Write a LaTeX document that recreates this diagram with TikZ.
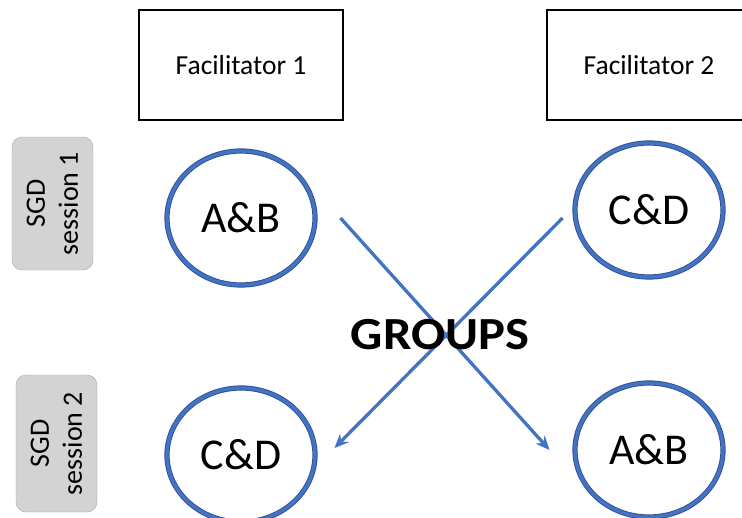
\documentclass[tikz,border=0pt]{standalone}
\usepackage{fontspec}
\setmainfont{Carlito}
\usepackage{tikz}
\usetikzlibrary{arrows.meta, shapes.geometric}
\definecolor{ringblue}{HTML}{4472C4}
\definecolor{ringdark}{HTML}{2F528F}
\definecolor{sgdgray}{HTML}{D3D3D3}
\definecolor{sgdline}{HTML}{A6A6A6}

\begin{document}
\begin{tikzpicture}[x=1pt, y=-1pt,
    facbox/.style={draw=black, line width=1.4pt, fill=white, minimum width=204pt, minimum height=110pt, font=\fontsize{27.5}{32}\selectfont},
    group/.style={ellipse, draw=ringdark, double=ringblue, double distance=3.4pt, line width=0.9pt, minimum width=148pt, minimum height=134pt, font=\fontsize{44}{48}\selectfont},
    session/.style={rounded corners=10pt, draw=sgdline, fill=sgdgray, rotate=90, align=center, font=\fontsize{28}{33}\selectfont},
    swap/.style={draw=ringblue, line width=3.3pt, -{Stealth[length=14pt, width=12pt]}}]

    \clip (0,0) rectangle (742,517);

    % facilitators
    \node[facbox] (fac1) at (241,65) {Facilitator 1};
    \node[facbox] (fac2) at (649,65) {Facilitator 2};

    % sessions
    \node[session, minimum width=133pt, minimum height=81pt] (sgd1) at (52.5,203.5) {SGD\\session 1};
    \node[session, minimum width=137pt, minimum height=81pt] (sgd2) at (56.5,443.5) {SGD\\session 2};

    % groups
    \node[group] (ab1) at (241,218) {A\&B};
    \node[group] (cd1) at (649,210) {C\&D};
    \node[group] (cd2) at (241,455) {C\&D};
    \node[group] (ab2) at (649,450) {A\&B};

    \coordinate (ab1out) at ([xshift=25pt]ab1.east);
    \coordinate (ab2in) at ([xshift=-25pt]ab2.west);
    \coordinate (cd1out) at ([xshift=-12pt, yshift=-8pt]cd1.west);
    \coordinate (cd2in) at ([xshift=19pt, yshift=7pt]cd2.east);

    \draw[swap] (ab1out) -- (ab2in);
    \draw[swap] (cd1out) -- (cd2in);

    \node[font=\fontsize{46}{50}\selectfont\bfseries, xscale=1.1] (label) at (440,335) {GROUPS};

\end{tikzpicture}
\end{document}
